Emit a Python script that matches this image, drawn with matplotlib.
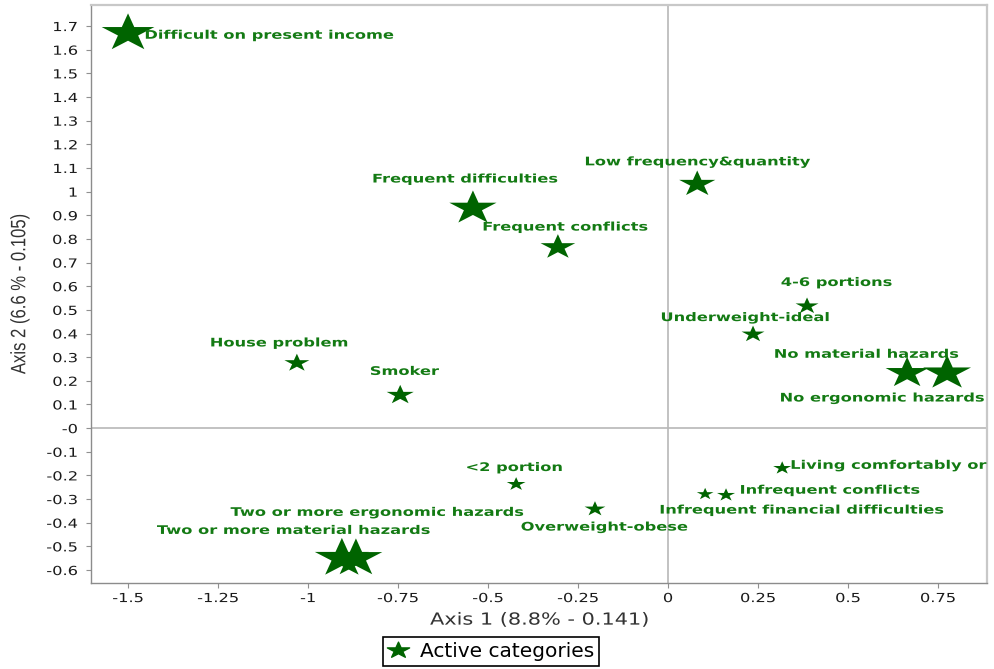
import numpy as np
import matplotlib
matplotlib.use("Agg")
import matplotlib.pyplot as plt
from matplotlib.path import Path
from matplotlib.lines import Line2D
from matplotlib.patheffects import AbstractPathEffect
from matplotlib.transforms import Affine2D

# categories and coordinates on the two axes
labels = ["Difficult on present income", "Frequent difficulties", "Frequent conflicts",
          "Low frequency&quantity", "4-6 portions", "Underweight-ideal",
          "No material hazards", "No ergonomic hazards", "House problem", "Smoker",
          "<2 portion", "Overweight-obese", "Living comfortably or",
          "Infrequent financial difficulties", "Infrequent conflicts",
          "Two or more material hazards", "Two or more ergonomic hazards"]
axis1 = [-1.500, -0.542, -0.306, 0.081, 0.386, 0.236, 0.664, 0.775, -1.031, -0.744,
         -0.422, -0.203, 0.317, 0.103, 0.161, -0.906, -0.867]
axis2 = [1.670, 0.930, 0.765, 1.032, 0.516, 0.397, 0.233, 0.233, 0.275, 0.140,
         -0.237, -0.342, -0.169, -0.279, -0.283, -0.550, -0.550]
# star width (points) for each category
star_size = [38, 34, 25, 26, 16.5, 16.5, 31, 34.5, 18, 19.5, 13.5, 15, 13, 12, 13, 39, 38]

# label offsets in points and alignment
lab_off = [(12, -1.5), (-6, 21), (5, 14.5), (0, 16), (21, 17), (-6, 12), (-29.5, 13.5),
           (-47, -18), (-13, 14.5), (3, 17), (-1.5, 12), (6.5, -13), (6, 2),
           (69, -11.5), (10, 3.5), (-35, 20), (15, 33)]
lab_ha = ["left", "center", "center", "center", "center", "center", "center", "center",
          "center", "center", "center", "center", "left", "center", "left", "center", "center"]

xticks = [-1.5, -1.25, -1, -0.75, -0.5, -0.25, 0, 0.25, 0.5, 0.75]
xtick_labels = ["-1.5", "-1.25", "-1", "-0.75", "-0.5", "-0.25", "0", "0.25", "0.5", "0.75"]
yticks = np.round(np.arange(-0.6, 1.71, 0.1), 1)

star_col = "#006400"
text_col = "#137a13"


# the original picture is stretched sideways, so the text is drawn wider too
class Stretch(AbstractPathEffect):
    def __init__(self, sx=1.0, sy=1.0, anchor="left"):
        super().__init__()
        self.sx = sx
        self.sy = sy
        self.anchor = anchor

    def draw_path(self, renderer, gc, tpath, affine, rgbFace=None):
        ext = tpath.get_extents()
        if self.anchor == "center":
            cx = (ext.x0 + ext.x1) / 2
        elif self.anchor == "right":
            cx = ext.x1
        else:
            cx = ext.x0
        t = Affine2D().translate(-cx, 0).scale(self.sx, self.sy).translate(cx, 0)
        renderer.draw_path(gc, tpath, t + affine, rgbFace)


# wide star marker like the original
ang = np.pi / 2 + np.arange(10) * np.pi / 5
rad = np.where(np.arange(10) % 2 == 0, 1.0, 0.382)
verts = np.column_stack([1.4 * rad * np.cos(ang), rad * np.sin(ang)])
star = Path(np.vstack([verts, verts[:1]]), closed=True)

fig = plt.figure(figsize=(9.94, 6.69), dpi=100)
ax = fig.add_axes([0.0915, 0.1285, 0.9015, 0.864])

# zero lines
ax.axhline(0, color="#b8b8b8", lw=1.2, zorder=1)
ax.axvline(0, color="#b8b8b8", lw=1.2, zorder=1)

ax.scatter(axis1, axis2, s=np.array(star_size) ** 2, marker=star, color=star_col,
           edgecolors="none", zorder=3)

for i in range(len(labels)):
    ax.annotate(labels[i], (axis1[i], axis2[i]), xytext=lab_off[i], textcoords="offset points",
                ha=lab_ha[i], va="center", fontsize=9, fontweight="bold", family="DejaVu Sans",
                color=text_col, clip_on=True, zorder=4,
                path_effects=[Stretch(1.3, 0.95, lab_ha[i])])

ax.set_xlim(-1.603, 0.886)
ax.set_ylim(-0.655, 1.789)
ax.set_xticks(xticks)
ax.set_xticklabels(xtick_labels)
ax.set_yticks(yticks)
ax.set_yticklabels([("%g" % v) for v in yticks])
ax.tick_params(direction="out", length=3.5, width=0.8, color="#909090",
               labelsize=9, labelcolor="#1a1a1a")
ax.tick_params(axis="y", pad=6)
ax.tick_params(axis="x", pad=3)
for t in ax.get_xticklabels():
    t.set_path_effects([Stretch(1.3, 1.0, "center")])
for t in ax.get_yticklabels():
    t.set_path_effects([Stretch(1.3, 1.0, "right")])

for s in ["left", "bottom"]:
    ax.spines[s].set_color("#8c8c8c")
    ax.spines[s].set_linewidth(1.0)
for s in ["top", "right"]:
    ax.spines[s].set_color("#c8c8c8")
    ax.spines[s].set_linewidth(1.6)

xl = ax.set_xlabel("Axis 1 (8.8% - 0.141)", fontsize=12, color="#333333", labelpad=4)
xl.set_path_effects([Stretch(1.25, 1.0, "center")])
yl = ax.set_ylabel("Axis 2 (6.6 % - 0.105)", fontsize=12, color="#333333",
                   family=["Liberation Sans Narrow", "Liberation Sans"], labelpad=18)
yl.set_path_effects([Stretch(1.0, 1.25, "center")])

# legend under the plot
h = Line2D([], [], ls="none", marker=star, markersize=16, color=star_col)
leg = fig.legend([h], ["Active categories"], loc="center", bbox_to_anchor=(0.494, 0.026),
                 fancybox=False, framealpha=1, edgecolor="black", fontsize=14.5,
                 handlelength=1.0, handletextpad=0.55, borderpad=0.25, borderaxespad=0)
leg.get_frame().set_linewidth(1.2)

fig.savefig("out.png", dpi=100)
